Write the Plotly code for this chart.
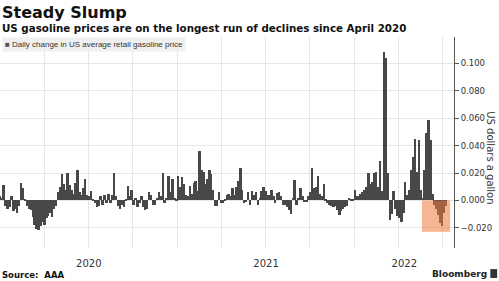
import pandas as pd
import plotly.graph_objects as go

# Daily change in US average retail gasoline price (USD/gal), sampled every 4 days from 2020-01-01
start_date = "2020-01-01"
step = "4D"
changes = [
    0.003, 0.002, 0.011, -0.004, -0.006, -0.005, 0.003, -0.008, -0.006, -0.009,
    -0.004, 0.0125, 0.009, 0.001,
    -0.004, -0.006, -0.007, -0.012, -0.018, -0.021, -0.0215, -0.019, -0.016, -0.018,
    -0.013, -0.011, -0.009, -0.012, -0.006, -0.004,
    0.006, 0.010, 0.019, 0.012, 0.008, 0.020, 0.011, 0.0075, 0.005, 0.013,
    0.022, 0.006, 0.004, 0.009, 0.016, 0.004, 0.003, 0.007, 0.001, -0.002,
    -0.005, -0.004, 0.003, -0.003, 0.004, -0.002, 0.005, -0.002, 0.004, 0.020,
    0.003, -0.004, -0.006, -0.003, -0.005, 0.001, 0.0105, 0.003, 0.0075, -0.003,
    0.002, -0.005, -0.002, 0.003, -0.005, -0.007, -0.006, 0.006, 0.004,
    -0.003, -0.003, 0.002, 0.0065, 0.003, 0.020, -0.002, 0.002, 0.018, 0.006,
    0.016, 0.002, 0.001, 0.0175, 0.010, 0.017, 0.012, 0.004, 0.003, 0.0105,
    0.005, 0.0125, 0.0145, 0.007, 0.036, 0.022, 0.021, 0.012, 0.016, 0.022,
    0.0195, 0.008, -0.004, -0.004, 0.006, -0.002, -0.002, 0.001, 0.004,
    0.005, 0.003, 0.009, 0.004, 0.010, 0.014, 0.0235, 0.008, -0.002, -0.001,
    0.0065, -0.003, 0.007, 0.004, 0.006, -0.003, 0.002, 0.007, 0.010, 0.007,
    0.004, 0.004, 0.008, 0.003, -0.002, 0.0055, 0.0065, 0.003, -0.003, -0.003,
    -0.005, -0.007, -0.0098, 0.002, 0.015, -0.003, 0.002, 0.009, 0.003,
    -0.001, -0.001, 0.003, 0.006, 0.0235, 0.009, 0.010, 0.0175, 0.005, 0.003,
    0.012, 0.001, -0.002, -0.003, -0.004, -0.0045, -0.004, -0.007, -0.0105, -0.008,
    -0.006, -0.005, -0.004, 0.002, 0.001, 0.001, 0.0075, 0.003, 0.003, 0.005,
    0.0065, 0.008, 0.010, 0.020, 0.012, 0.0137, 0.0198, 0.021, 0.010,
    0.029, 0.007, 0.108, 0.104, 0.020, -0.014, -0.010, 0.007, -0.006, -0.011,
    -0.013, -0.0155, -0.009, 0.0137, 0.004, 0.0075, 0.022, 0.032, 0.045, 0.021,
    0.044, 0.008, 0.002, 0.022, 0.049, 0.0585, 0.044, 0.005, -0.003, -0.006,
    -0.0105, -0.0165, -0.019, -0.009, -0.004,
]
dates = pd.date_range(start_date, periods=len(changes), freq=step)

y_ticks = [-0.02, 0.0, 0.02, 0.04, 0.06, 0.08, 0.10]
x_start, x_end = "2020-01-01", "2022-07-25"
year_starts = ["2020-01-01", "2021-01-01", "2022-01-01"]
year_labels = ["2020", "2021", "2022"]
quarter_lines = pd.date_range("2020-04-01", "2022-07-01", freq="QS")

# highlighted run of declines
hl_start, hl_end, hl_low = "2022-05-20", "2022-07-17", -0.0229

# label positions: centre of each year's visible span
bounds = [pd.Timestamp(d) for d in year_starts] + [pd.Timestamp(x_end)]
year_centres = [bounds[i] + (bounds[i + 1] - bounds[i]) / 2 for i in range(3)]

series_name = "Daily change in US average retail gasoline price"

fig = go.Figure()
fig.add_trace(go.Bar(
    x=dates, y=changes,
    marker=dict(color="#484848", line=dict(width=0)),
    name=series_name, showlegend=False,
))

fig.add_shape(type="rect", xref="x", yref="y", x0=hl_start, x1=hl_end, y0=0, y1=hl_low,
              fillcolor="#f07a3a", opacity=0.55, line=dict(width=0), layer="above")

fig.update_layout(
    width=499, height=281,
    margin=dict(l=0, r=45, t=37, b=33),
    paper_bgcolor="white", plot_bgcolor="white",
    bargap=0,
    font=dict(family="DejaVu Sans", color="#333333", size=9),
    xaxis=dict(
        type="date", range=[x_start, x_end],
        tickvals=year_centres, ticktext=year_labels,
        showgrid=False, ticks="outside", ticklen=6, tickcolor="rgba(0,0,0,0)",
        tickfont=dict(size=10, color="#333333"),
        minor=dict(tickvals=list(quarter_lines), showgrid=True, gridcolor="#e6e6e6", gridwidth=1, ticks=""),
        showline=False, zeroline=False,
    ),
    yaxis=dict(
        side="right", range=[-0.0347, 0.1193],
        tickvals=y_ticks, tickformat=".3f",
        showgrid=True, gridcolor="#e6e6e6", gridwidth=1,
        ticks="outside", ticklen=4, tickcolor="#555555",
        showline=True, linecolor="#555555", linewidth=1,
        zeroline=False, tickfont=dict(size=8.5, color="#333333"),
    ),
)

# legend box
fig.add_annotation(text="<span style='color:#555555'>■</span> " + series_name,
                   xref="paper", yref="paper", x=0, y=1, xanchor="left", yanchor="top",
                   xshift=2, yshift=0, showarrow=False, bgcolor="#f0f0f0", borderpad=2,
                   font=dict(size=8, color="#333333", family="Liberation Sans"))

fig.add_annotation(text="<b>Steady Slump</b>", xref="paper", yref="paper", x=0, y=1,
                   xanchor="left", yanchor="top", yshift=36, showarrow=False,
                   font=dict(size=16, color="#111111", family="DejaVu Sans"))
fig.add_annotation(text="<b>US gasoline prices are on the longest run of declines since April 2020</b>",
                   xref="paper", yref="paper", x=0, y=1, xanchor="left", yanchor="top",
                   yshift=17, showarrow=False,
                   font=dict(size=10.3, color="#111111", family="DejaVu Sans"))
fig.add_annotation(text="US dollars a gallon", xref="paper", yref="paper", x=1, y=0.43,
                   xanchor="center", yanchor="middle", xshift=37, textangle=90, showarrow=False,
                   font=dict(size=10, color="#333333"))
fig.add_annotation(text="<b>Source:  AAA</b>", xref="paper", yref="paper", x=0, y=0,
                   xanchor="left", yanchor="bottom", yshift=-34, showarrow=False,
                   font=dict(size=8.5, color="#111111"))
fig.add_annotation(text="<b>Bloomberg</b>", xref="paper", yref="paper", x=1, y=0,
                   xanchor="right", yanchor="middle", xshift=35, yshift=-26, showarrow=False,
                   font=dict(size=9, color="#222222"))
fig.add_shape(type="rect", xref="paper", yref="paper", x0=1.080, x1=1.095, y0=-0.142, y1=-0.100,
              fillcolor="#333333", line=dict(width=0))

fig.write_html("out.html")
